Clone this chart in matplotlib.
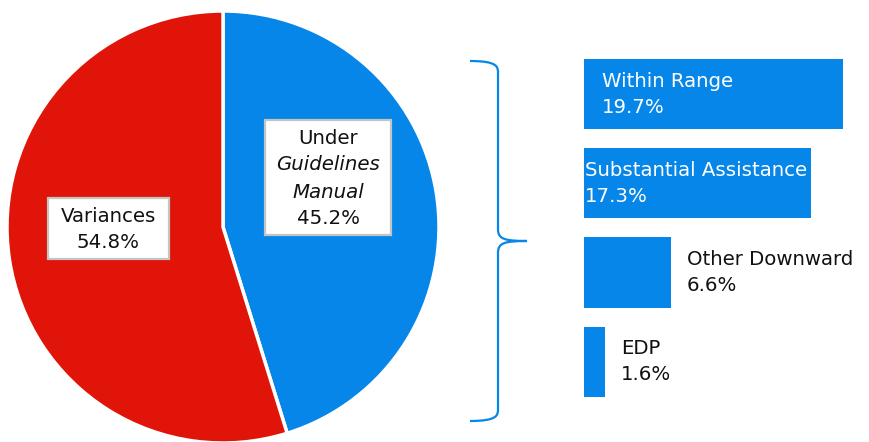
import matplotlib
matplotlib.use("Agg")
import matplotlib.pyplot as plt
from matplotlib.patches import Rectangle, PathPatch
from matplotlib.path import Path

# Overall split of sentences
pie_labels = ["Under Guidelines Manual", "Variances"]
pie_values = [45.2, 54.8]

# Breakdown of sentences under the Guidelines Manual
bar_labels = ["Within Range", "Substantial Assistance", "Other Downward", "EDP"]
bar_values = [19.7, 17.3, 6.6, 1.6]

RED = "#E01408"
BLUE = "#0586E8"
FONT = "DejaVu Sans"
FS = 14.2

W, H = 869, 442
fig = plt.figure(figsize=(W / 100, H / 100), dpi=100)
fig.patch.set_facecolor("white")


def fig_rect(x0, y0, x1, y1):
    """Pixel box (top-left origin) -> figure-fraction rect."""
    return [x0 / W, 1 - y1 / H, (x1 - x0) / W, (y1 - y0) / H]


# ---- pie ----
cx, cy, r = 223, 227, 216
ax_pie = fig.add_axes(fig_rect(cx - r, cy - r, cx + r, cy + r))
ax_pie.pie(pie_values, colors=[BLUE, RED], startangle=90, counterclock=False,
           radius=1.0, wedgeprops=dict(edgecolor="white", linewidth=2.5))
ax_pie.set_xlim(-1, 1)
ax_pie.set_ylim(-1, 1)
ax_pie.set_aspect("equal")
ax_pie.axis("off")


def px2pie(x, y):
    return (x - cx) / r, (cy - y) / r


def label_box(x0, y0, x1, y1):
    a = px2pie(x0, y1)
    b = px2pie(x1, y0)
    ax_pie.add_patch(Rectangle(a, b[0] - a[0], b[1] - a[1], facecolor="white",
                               edgecolor="#C4C4C4", linewidth=1.6, zorder=5))


# Variances label
label_box(48, 198, 169, 259)
for txt, y in [("Variances", 216), (f"{pie_values[1]:.1f}%", 243)]:
    ax_pie.text(*px2pie(108.5, y), txt, ha="center", va="center", fontsize=FS,
                family=FONT, color="#111111", zorder=6)

# Under Guidelines Manual label
label_box(265, 120, 391, 235)
lines = [("Under", "normal", 139), ("Guidelines", "italic", 165),
         ("Manual", "italic", 192), (f"{pie_values[0]:.1f}%", "normal", 218)]
for txt, st, y in lines:
    ax_pie.text(*px2pie(328, y), txt, ha="center", va="center", fontsize=FS,
                family=FONT, style=st, color="#111111", zorder=6)

# ---- brace ----
ax_all = fig.add_axes([0, 0, 1, 1])
ax_all.set_xlim(0, W)
ax_all.set_ylim(H, 0)
ax_all.axis("off")
ax_all.patch.set_alpha(0)

bx, tipx, leftx = 498, 527, 470
top, mid, bot = 61, 241, 421
verts = [
    (leftx, top), (bx, top), (bx, top + 6), (bx, top + 12),
    (bx, mid - 12),
    (bx, mid - 2), (bx + 6, mid), (tipx, mid),
    (bx + 6, mid), (bx, mid + 2), (bx, mid + 12),
    (bx, bot - 12),
    (bx, bot - 6), (bx, bot), (leftx, bot),
]
codes = [Path.MOVETO, Path.CURVE4, Path.CURVE4, Path.CURVE4,
         Path.LINETO,
         Path.CURVE4, Path.CURVE4, Path.CURVE4,
         Path.CURVE4, Path.CURVE4, Path.CURVE4,
         Path.LINETO,
         Path.CURVE4, Path.CURVE4, Path.CURVE4]
ax_all.add_patch(PathPatch(Path(verts, codes), facecolor="none",
                           edgecolor=BLUE, linewidth=1.6))

# ---- bars ----
px_per_pct = 13.15
bar_left, bar_top, slot = 584, 50, 89
ax_bar = fig.add_axes(fig_rect(bar_left, bar_top,
                               bar_left + 20 * px_per_pct, bar_top + 4 * slot))
ypos = list(range(len(bar_values)))
ax_bar.barh(ypos, bar_values, height=70 / slot, color=BLUE, left=0)
ax_bar.set_xlim(0, 20)
ax_bar.set_ylim(len(bar_values) - 0.5, -0.5)
ax_bar.axis("off")

label_x = [1.35, 0.08, bar_values[2] + 1.2, bar_values[3] + 1.2]
label_col = ["white", "white", "#111111", "#111111"]
for i, (lab, v) in enumerate(zip(bar_labels, bar_values)):
    ax_bar.text(label_x[i], i, f"{lab}\n{v:.1f}%", ha="left", va="center",
                fontsize=FS, family=FONT, color=label_col[i], linespacing=1.48,
                clip_on=False)

fig.savefig("out.png", dpi=100, facecolor="white")
